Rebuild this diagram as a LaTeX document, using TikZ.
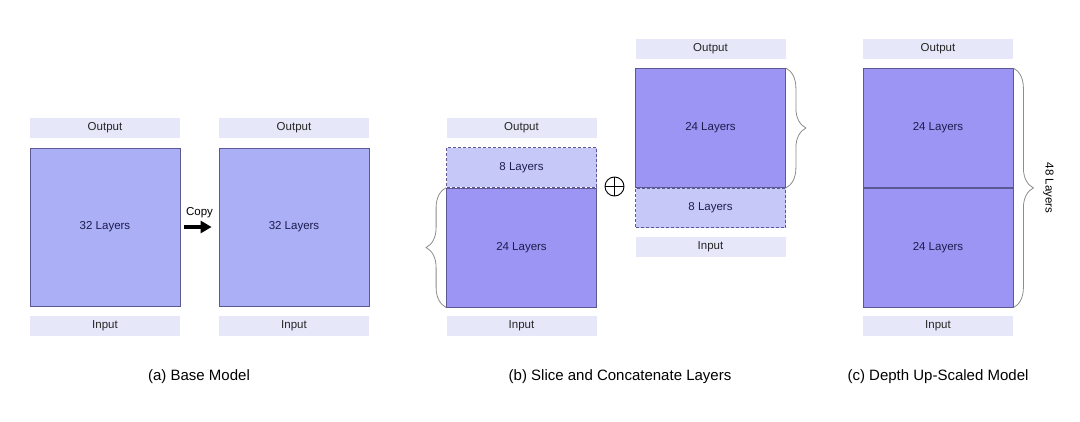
\documentclass[tikz,border=0pt]{standalone}
\usepackage{fontspec}
\setmainfont{Liberation Sans}
\usetikzlibrary{positioning,arrows.meta,decorations.pathreplacing}
\definecolor{iofill}{HTML}{E6E8FA}
\definecolor{basefill}{HTML}{AAAFF6}
\definecolor{keepfill}{HTML}{9D95F3}
\definecolor{dropfill}{HTML}{C6C9F8}
\definecolor{edge}{HTML}{5B5894}
\definecolor{layertext}{HTML}{1E1C4E}
\tikzset{
  io/.style={fill=iofill, minimum width=150pt, minimum height=20pt, inner sep=0pt, font=\fontsize{11.5}{13}\selectfont, text=black!85},
  layers/.style={draw=edge, line width=0.8pt, minimum width=150pt, inner sep=0pt, font=\fontsize{11.5}{13}\selectfont, text=layertext},
  base/.style={layers, fill=basefill, minimum height=158pt},
  keep/.style={layers, fill=keepfill, minimum height=119pt},
  drop/.style={layers, fill=dropfill, minimum height=39.5pt, dashed, dash pattern=on 3pt off 2pt},
  bracket/.style={draw=black!45, line width=0.8pt, decorate, decoration={brace, amplitude=20pt, aspect=0.5}},
  caption/.style={font=\fontsize{15}{18}\selectfont}
}
\begin{document}
\begin{tikzpicture}[x=1pt, y=-1pt]
  \useasboundingbox (0,0) rectangle (1080,422);
  % (a) base model and its copy
  \node[io] (aout) at (105,128) {Output};
  \node[base] (abody) at (105,227) {32 Layers};
  \node[io] (ain) at (105,326) {Input};
  \node[io] (cout) at (294,128) {Output};
  \node[base] (cbody) at (294,227) {32 Layers};
  \node[io] (cin) at (294,326) {Input};
  \draw[-{Triangle[length=11pt,width=12pt]}, line width=4pt, shorten <=4pt, shorten >=7pt] (abody) -- (cbody)
    node[midway, above=4pt, font=\fontsize{11.5}{13}\selectfont] {Copy};
  \node[caption] (acap) at (199,377) {(a) Base Model};
  % (b) slice and concatenate
  \node[io] (lout) at (521.5,128) {Output};
  \node[drop] (ltop) at (521.5,167.5) {8 Layers};
  \node[keep, below=0pt of ltop] (lkeep) {24 Layers};
  \node[io] (lin) at (521.5,326) {Input};
  \node[io] (rout) at (710.5,49) {Output};
  \node[keep] (rkeep) at (710.5,128) {24 Layers};
  \node[drop, below=0pt of rkeep] (rbot) {8 Layers};
  \node[io] (rin) at (710.5,247) {Input};
  \draw[bracket] (lkeep.south west) -- (lkeep.north west);
  \draw[bracket] (rkeep.north east) -- (rkeep.south east);
  \node[circle, draw, line width=0.9pt, minimum size=19pt, inner sep=0pt,
    path picture={\draw[line width=0.9pt] (path picture bounding box.north) -- (path picture bounding box.south)
      (path picture bounding box.west) -- (path picture bounding box.east);}] (plus) at (614.5,186.5) {};
  \node[caption] (bcap) at (620,377) {(b) Slice and Concatenate Layers};
  % (c) depth up-scaled model
  \node[io] (sout) at (938,49) {Output};
  \node[keep] (stop) at (938,128) {24 Layers};
  \node[keep, below=0pt of stop] (sbot) {24 Layers};
  \node[io] (sin) at (938,326) {Input};
  \draw[bracket] (stop.north east) -- (sbot.south east);
  \node[rotate=-90, font=\fontsize{11.5}{13}\selectfont] (total) at ([xshift=35pt]stop.south east) {48 Layers};
  \node[caption] (ccap) at (938,377) {(c) Depth Up-Scaled Model};
\end{tikzpicture}
\end{document}
